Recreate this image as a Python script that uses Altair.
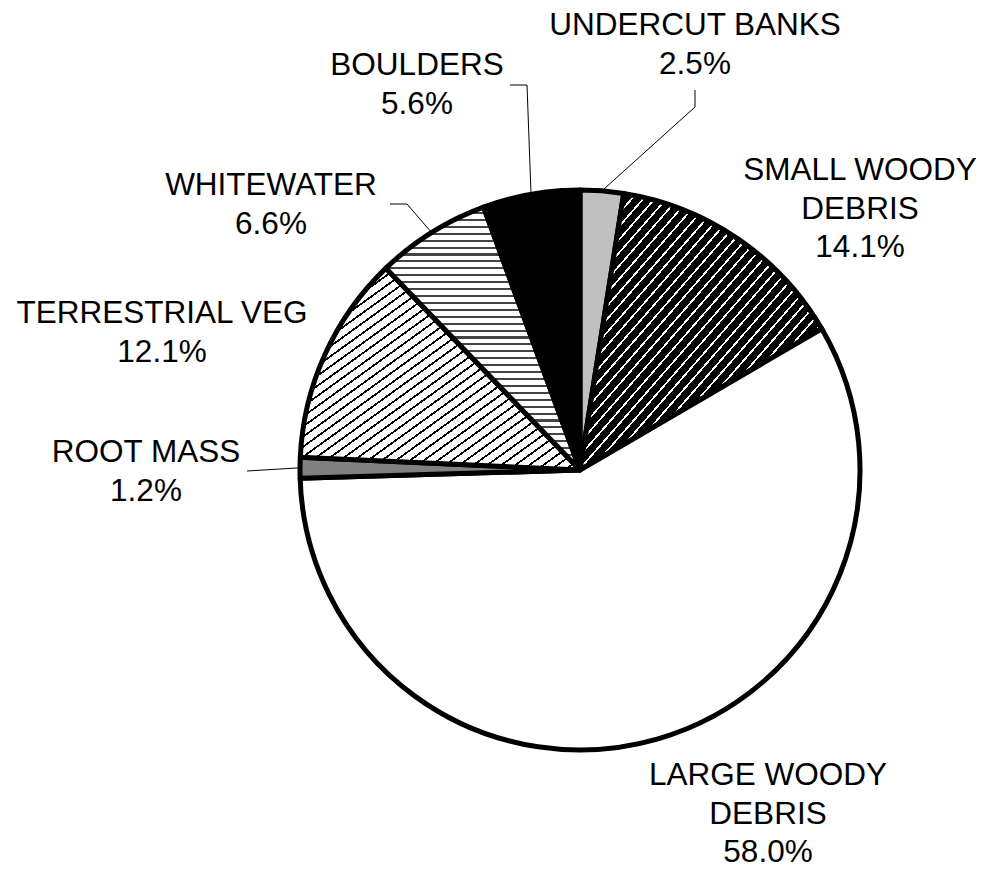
import math
import altair as alt
import pandas as pd

# ---- data ----
categories = ["UNDERCUT BANKS", "SMALL WOODY DEBRIS", "LARGE WOODY DEBRIS",
              "ROOT MASS", "TERRESTRIAL VEG", "WHITEWATER", "BOULDERS"]
label_names = ["UNDERCUT BANKS", "SMALL WOODY\nDEBRIS", "LARGE WOODY\nDEBRIS",
               "ROOT MASS", "TERRESTRIAL VEG", "WHITEWATER", "BOULDERS"]
percent = [2.5, 14.1, 58.0, 1.2, 12.1, 6.6, 5.6]

# ---- layout ----
W, H = 984, 870
CX, CY, R = 580, 470, 280
label_x = [695, 860, 768, 146, 162, 271, 417]
label_y = [35, 180, 785, 462, 323, 195, 75]
leader_cats = ["UNDERCUT BANKS", "BOULDERS", "WHITEWATER", "ROOT MASS"]
leader_elbow = [(695, 107), (527, 85), (407, 204), (247, 471)]
leader_end = [(695, 90), (510, 85), (390, 204), (247, 471)]


def stripes(fg, bg, n, line_frac, x2, y2):
    stops = []
    p = 1.0 / n
    for i in range(n):
        o = i * p
        a = round(o, 5)
        b = round(o + p * (1 - line_frac), 5)
        c = round(min(o + p, 1.0), 5)
        stops += [{"offset": a, "color": bg}, {"offset": b, "color": bg},
                  {"offset": b, "color": fg}, {"offset": c, "color": fg}]
    return {"gradient": "linear", "x1": 0, "y1": 0, "x2": x2, "y2": y2,
            "stops": stops}


fills = {
    "UNDERCUT BANKS": "#c0c0c0",
    "SMALL WOODY DEBRIS": stripes("#ffffff", "#000000", 42, 0.2, 1, 1),
    "LARGE WOODY DEBRIS": "#ffffff",
    "ROOT MASS": "#808080",
    "TERRESTRIAL VEG": stripes("#000000", "#ffffff", 40, 0.22, 1, 1),
    "WHITEWATER": stripes("#444444", "#ffffff", 38, 0.3, 0, 1),
    "BOULDERS": "#000000",
}

df = pd.DataFrame({"cat": categories, "label": label_names,
                   "pct": percent, "idx": list(range(len(categories)))})
df["text"] = [f"{n}\n{v:.1f}%" for n, v in zip(label_names, percent)]
df["lx"] = label_x
df["ly"] = label_y

total = sum(percent)
cum = 0.0
mid = {}
for c, v in zip(categories, percent):
    mid[c] = (cum + v / 2) / total * 2 * math.pi
    cum += v

rows = []
for c, el, en in zip(leader_cats, leader_elbow, leader_end):
    a = mid[c]
    rows.append({"cat": c, "seq": 0, "x": CX + R * math.sin(a), "y": CY - R * math.cos(a)})
    rows.append({"cat": c, "seq": 1, "x": el[0], "y": el[1]})
    rows.append({"cat": c, "seq": 2, "x": en[0], "y": en[1]})
lines = pd.DataFrame(rows)

# fill condition chain
w = None
for c in categories:
    if c == "LARGE WOODY DEBRIS":
        continue
    cond = alt.datum.cat == c
    w = alt.when(cond).then(alt.value(fills[c])) if w is None else w.when(cond).then(alt.value(fills[c]))
fill = w.otherwise(alt.value(fills["LARGE WOODY DEBRIS"]))

pie = alt.Chart(df).mark_arc(
    outerRadius=R, stroke="black", strokeWidth=5, strokeJoin="round"
).encode(
    theta=alt.Theta("pct:Q", stack=True),
    order=alt.Order("idx:Q", sort="ascending"),
    fill=fill,
    x=alt.value(CX),
    y=alt.value(CY),
)

leader = alt.Chart(lines).mark_line(color="black", strokeWidth=1).encode(
    x=alt.X("x:Q", scale=None, axis=None),
    y=alt.Y("y:Q", scale=None, axis=None),
    detail="cat:N",
    order="seq:Q",
)

labels = alt.Chart(df).mark_text(
    align="center", baseline="alphabetic", lineBreak="\n",
    font="Liberation Sans", fontSize=31.5, lineHeight=38.5, color="black"
).encode(
    x=alt.X("lx:Q", scale=None, axis=None),
    y=alt.Y("ly:Q", scale=None, axis=None),
    text="text:N",
)

chart = alt.layer(pie, leader, labels).properties(
    width=W, height=H, autosize=alt.AutoSizeParams(type="none"), padding=0,
    background="white"
).configure_view(stroke=None)

chart.save("out.html", embed_options={"renderer": "svg", "actions": False})
